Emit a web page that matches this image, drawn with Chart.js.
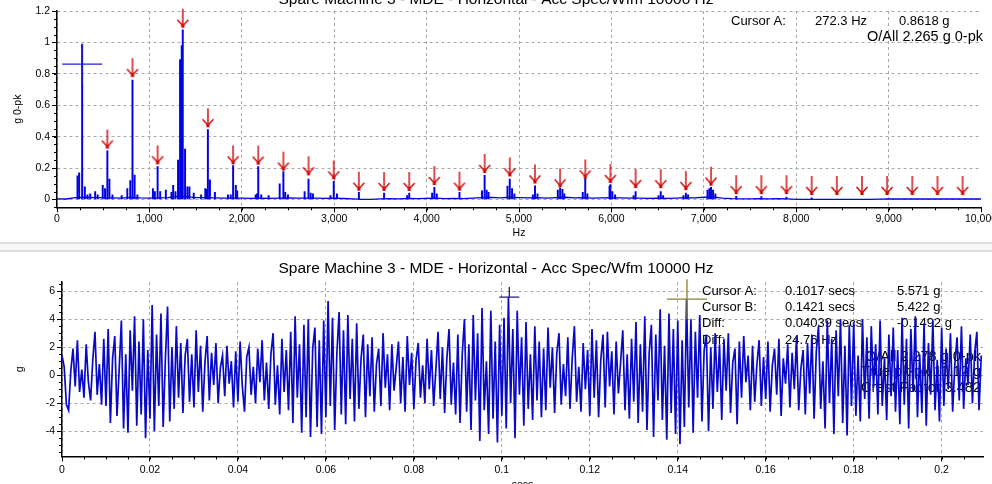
<!DOCTYPE html>
<html lang="en">
<head>
<meta charset="UTF-8">
<title>Spare Machine 3 - MDE - Horizontal - Acc Spec/Wfm 10000 Hz</title>
<script src="https://cdn.jsdelivr.net/npm/chart.js"></script>
<style>
    html, body { margin: 0; padding: 0; background: #fff; width: 992px; height: 484px; overflow: hidden; }
    #specBox { position: absolute; left: 0; top: -12px; width: 992px; height: 254px; }
    #wfmBox { position: absolute; left: 0; top: 252px; width: 992px; height: 244px; }
    #splitter { position: absolute; left: 0; top: 242px; width: 992px; height: 10px; box-sizing: border-box;
                border-top: 2px solid #dcdcdc; border-bottom: 2px solid #dcdcdc; background: #f7f7f7; }
</style>
</head>
<body>
<div id="specBox"><canvas id="specChart" width="992" height="254"></canvas></div>
<div id="splitter"></div>
<div id="wfmBox"><canvas id="wfmChart" width="992" height="244"></canvas></div>
<script>
// ---- spectrum (top) ----
const chartTitle = 'Spare Machine 3 - MDE - Horizontal - Acc Spec/Wfm 10000 Hz';

// noise floor, one value every 100 Hz (0 .. 10000 Hz)
const floorStepHz = 100;
const floorG = [
    0.004, 0.003, 0.012, 0.014, 0.012, 0.011, 0.010, 0.009, 0.013, 0.010,
    0.009, 0.010, 0.012, 0.020, 0.018, 0.011, 0.012, 0.010, 0.008, 0.009,
    0.008, 0.007, 0.008, 0.007, 0.009, 0.010, 0.008, 0.009, 0.008, 0.007,
    0.008, 0.006, 0.004, 0.001, 0.001, 0.004, 0.005, 0.004, 0.006, 0.005,
    0.007, 0.008, 0.005, 0.006, 0.005, 0.008, 0.012, 0.013, 0.010, 0.014,
    0.012, 0.010, 0.011, 0.009, 0.012, 0.014, 0.010, 0.012, 0.009, 0.010,
    0.012, 0.010, 0.008, 0.009, 0.007, 0.008, 0.007, 0.009, 0.011, 0.010,
    0.014, 0.016, 0.008, 0.005, 0.004, 0.004, 0.005, 0.004, 0.005, 0.004,
    0.001, 0.000, 0.001, 0.000, 0.000, 0.001, 0.000, 0.000, 0.001, 0.002,
    0.003, 0.004, 0.003, 0.004, 0.003, 0.004, 0.003, 0.003, 0.004, 0.003,
    0.003
];

// spectral lines
const peakHz = [
    222, 240, 272.3, 301, 330, 360, 413, 440, 495, 520, 545, 567, 600, 700,
    761, 793, 817, 840, 870, 1038, 1059, 1089, 1117, 1178, 1239, 1257, 1282,
    1310, 1332, 1350, 1361, 1386, 1411, 1433, 1480, 1560, 1605, 1620, 1633, 1655,
    1709, 1850, 1880, 1906, 1935, 1950, 2150, 2165, 2178, 2210, 2290, 2410, 2450,
    2470, 2500, 2680, 2722, 2745, 2770, 2960, 2995, 3030, 3267, 3540, 3790, 3812,
    4060, 4084, 4110, 4356, 4600, 4628, 4650, 4670, 4875, 4900, 4925, 4950,
    5150, 5173, 5200, 5420, 5445, 5470, 5490, 5690, 5717, 5740, 5980, 5989, 6010,
    6040, 6240, 6262, 6510, 6534, 6560, 6780, 6806, 6830, 7040, 7060, 7078, 7100,
    7125, 7351, 7623, 7895, 8167
];
const peakG = [
    0.15, 0.17, 0.99, 0.08, 0.03, 0.035, 0.05, 0.03, 0.09, 0.07, 0.31, 0.13, 0.03, 0.025,
    0.07, 0.12, 0.76, 0.155, 0.03, 0.07, 0.05, 0.21, 0.05, 0.06, 0.045, 0.09, 0.05,
    0.25, 0.89, 0.98, 1.08, 0.32, 0.08, 0.08, 0.04, 0.03, 0.07, 0.065, 0.445, 0.125,
    0.045, 0.03, 0.03, 0.215, 0.09, 0.055, 0.03, 0.035, 0.21, 0.03, 0.025, 0.10, 0.178,
    0.045, 0.03, 0.05, 0.13, 0.04, 0.035, 0.025, 0.115, 0.035, 0.045, 0.04, 0.025, 0.04,
    0.04, 0.077, 0.035, 0.045, 0.055, 0.153, 0.06, 0.045, 0.085, 0.13, 0.07, 0.035,
    0.03, 0.087, 0.035, 0.06, 0.073, 0.065, 0.035, 0.045, 0.136, 0.035, 0.085, 0.094, 0.05,
    0.03, 0.025, 0.05, 0.025, 0.05, 0.025, 0.025, 0.04, 0.03, 0.06, 0.07, 0.077, 0.06,
    0.035, 0.02, 0.018, 0.015, 0.01
];

// harmonic markers (red arrows), tip position
const arrowHz = [
    545, 817, 1089, 1361, 1633, 1906, 2178, 2450, 2722, 2995, 3267, 3540, 3812,
    4084, 4356, 4628, 4900, 5173, 5445, 5717, 5989, 6262, 6534, 6806, 7078,
    7351, 7623, 7895, 8167, 8440, 8712, 8984, 9256, 9529, 9801
];
const arrowG = [
    0.33, 0.785, 0.23, 1.10, 0.466, 0.23, 0.228, 0.19, 0.16, 0.134, 0.062, 0.06, 0.06,
    0.098, 0.062, 0.175, 0.153, 0.108, 0.083, 0.14, 0.111, 0.079, 0.078, 0.066, 0.094,
    0.04, 0.04, 0.04, 0.035, 0.035, 0.035, 0.035, 0.035, 0.035, 0.035
];

const specCursor = { hz: 272.3, g: 0.8618 };
const specOverall = '2.265';

// ---- waveform (bottom) ----
const sampleStep = 0.0005; // secs
const wfmG = [
    1.4, 0.6, -2.1, -2.5, 0.3, 1.9, -0.8, 2.5, -1.2, 0.4, -1.6, 2.2, -0.5, -1.8, 1.1, 3.1, -1.4, 0.8, -2.1, 2.6,
    -2.2, 3.3, -3.4, 1.2, 2.8, -2.9, 0.4, 3.9, -3.8, 1.5, -4.1, 3.2, -1.1, 4.2, -3.6, 2.4, -2.8, 4.0, -4.5, 1.8,
    -3.1, 5.0, -4.0, 2.9, -2.2, 4.4, -3.7, 1.1, 4.9, -3.3, 2.0, -2.4, 3.5, -1.6, 2.3, -2.7, 1.4, 2.6, -1.9, 1.5,
    -2.3, 3.2, -1.2, 2.1, -2.6, 0.9, 2.8, -1.8, 1.6, -0.7, 2.3, -2.0, 0.5, 1.4, -1.5, 2.1, -0.6, 1.0, -2.3, 1.7,
    -1.9, 2.4, -0.8, -2.6, 1.3, 2.0, -1.4, 0.6, -2.0, 1.9, -0.5, 2.5, -1.8, 0.9, -2.4, 1.5, 3.0, -2.1, 0.7, -2.8,
    2.6, -1.2, 1.8, -2.5, 3.1, -3.4, 4.2, -1.6, 2.2, -4.1, 3.6, -3.0, 4.0, -4.4, 1.9, 3.4, -3.7, 2.5, -4.2, 3.9,
    -3.0, 5.3, -2.2, 4.1, -3.9, 1.6, 4.5, -2.8, 3.2, -3.5, 4.3, -1.7, 2.6, -3.3, 3.7, -2.4, 1.2, 2.9, -3.0, 2.2,
    -1.5, 2.7, -2.6, 0.8, 1.9, -2.2, 3.0, -0.9, 1.5, -2.5, 2.2, -1.1, 0.6, 2.4, -2.0, 1.3, -2.6, 2.8, -0.7, 1.6,
    -2.4, 1.1, 2.3, -1.6, 0.7, -2.0, 2.6, -1.0, 1.8, -2.2, 0.4, 3.1, -1.7, 2.0, -2.7, 1.2, 3.3, -2.1, 0.9, -2.8,
    2.9, -3.4, 1.5, 4.0, -2.6, 2.2, -3.9, 4.3, -1.8, 3.0, -4.7, 4.8, -2.5, 1.0, -4.2, 4.6, -3.1, 2.4, -4.8, 3.6,
    -2.9, 4.1, -3.8, 5.57, -2.0, 3.3, -4.5, 4.6, -1.4, 2.7, -3.6, 3.8, -2.4, 1.5, -3.2, 3.5, -1.8, 2.4, -3.0, 1.9,
    -2.5, 3.4, -0.9, 2.0, -2.7, 1.6, 3.0, -2.1, 0.8, -1.5, 2.7, -2.4, 1.2, 3.5, -1.9, 0.6, -2.6, 2.3, -1.0, 1.8,
    -2.9, 3.3, -1.6, 2.5, -3.0, 1.1, 2.9, -2.3, 3.1, -0.8, 1.7, -2.8, 2.4, -1.3, 0.9, 3.2, -2.5, 1.5, -3.1, 2.6,
    -1.9, 3.8, -3.4, 2.2, -2.6, 4.2, -3.9, 1.6, 3.6, -4.4, 2.9, -1.8, 4.7, -3.2, 2.1, -4.6, 4.4, -2.7, 3.3, -4.2,
    3.9, -4.9, 2.5, -3.7, 5.42, -2.3, 4.0, -4.1, 3.1, -1.6, 4.3, -3.3, 1.8, 2.9, -4.0, 2.0, -2.4, 3.0, -1.2, 2.2,
    -3.2, 2.6, -1.1, 3.0, -2.7, 0.9, 1.9, -3.5, 2.4, -1.6, 2.8, -0.5, 1.4, -2.5, 2.1, -1.9, 0.8, 2.5, -2.2, 1.3,
    -1.7, 2.4, -2.6, 0.7, 1.9, -1.4, 2.6, -2.9, 1.2, -0.6, 2.2, -2.3, 1.6, -1.0, 2.7, -2.5, 0.5, 1.8, -2.8, 2.3,
    -1.3, 2.9, -3.1, 1.7, 3.5, -2.4, 1.0, -3.8, 3.9, -2.0, 2.6, -4.2, 3.2, -1.5, 4.0, -3.4, 2.1, -4.3, 3.6, -2.2,
    3.8, -2.9, 1.4, -3.3, 4.0, -1.7, 2.7, -3.1, 3.5, -0.9, 2.2, -2.8, 3.9, -2.2, 1.3, -3.2, 2.9, -1.5, 3.4, -2.6,
    1.8, -3.5, 4.1, -2.1, 2.6, -3.8, 3.3, -1.2, 4.2, -3.0, 1.5, -2.7, 3.7, -3.6, 2.3, -1.4, 3.9, -2.5, 1.1, -3.3,
    3.4, -2.2, 1.9, -1.0, 3.0, -2.6, 0.8, 2.7, -1.8, 3.5, -2.4, 1.2, -0.7, 2.9, -2.0, 1.6, 3.1, -2.5, 1.4
];
const wfmCursorA = { t: 0.1017, g: 5.571 };
const wfmCursorB = { t: 0.1421, g: 5.422 };
const wfmDiffT = '0.04039';
const wfmDiffG = '-0.1492';
const wfmDiffHz = '24.76';
const wfmOverall = '2.278';
const wfmPkPk = '11.12';
const wfmCrest = '3.482';

// ---- styling ----
const FONT = '"Liberation Sans", Arial, sans-serif';
const specBlue = '#0000e6';
const wfmBlue = '#0808c8';
const arrowRed = '#d00000';
const gridGray = '#a8a8a8';
Chart.defaults.font.family = FONT;
Chart.defaults.color = '#000';

function makeArrow() {
    const c = document.createElement('canvas');
    c.width = 14; c.height = 46;
    const g = c.getContext('2d');
    const cx = 7, tip = 23;
    g.strokeStyle = arrowRed; g.fillStyle = arrowRed; g.lineWidth = 1.4;
    g.beginPath(); g.moveTo(cx, tip - 18); g.lineTo(cx, tip); g.stroke();
    g.beginPath(); g.moveTo(cx - 5.5, tip - 7); g.lineTo(cx, tip - 1); g.lineTo(cx + 5.5, tip - 7); g.stroke();
    g.fillRect(cx - 1.5, tip - 2, 3, 3);
    return c;
}

// keep only ticks on the major step
function keepSteps(step) {
    return function (scale) {
        scale.ticks = scale.ticks.filter(t => {
            const k = t.value / step;
            return Math.abs(k - Math.round(k)) < 1e-6 && t.value >= scale.min - 1e-9 && t.value <= scale.max + 1e-9;
        });
    };
}
const shortNum = v => String(Number(v.toFixed(4)));

// titles, cursor readouts, minor ticks, cursor marks
const panelDecor = {
    id: 'panelDecor',
    beforeDatasetsDraw(chart, args, o) {
        const ctx = chart.ctx;
        ctx.save();
        ctx.fillStyle = '#000';
        ctx.font = '15.5px ' + FONT;
        ctx.textAlign = 'center';
        ctx.textBaseline = 'alphabetic';
        ctx.fillText(o.title, chart.width / 2, o.titleBaseline);
        ctx.textBaseline = 'middle';
        (o.notes || []).forEach(n => {
            ctx.font = (n.size || 13) + 'px ' + FONT;
            ctx.textAlign = n.align || 'left';
            ctx.fillText(n.text, n.x, n.y);
        });
        ctx.restore();
    },
    afterDatasetsDraw(chart, args, o) {
        const ctx = chart.ctx, xs = chart.scales.x, ys = chart.scales.y;
        ctx.save();
        ctx.strokeStyle = '#000';
        ctx.lineWidth = 1;
        ctx.beginPath();
        for (let k = Math.ceil(xs.min / o.minorX - 1e-9); k * o.minorX <= xs.max + 1e-9; k++) {
            const px = Math.round(xs.getPixelForValue(k * o.minorX)) + 0.5;
            ctx.moveTo(px, xs.top); ctx.lineTo(px, xs.top + 3);
        }
        for (let k = Math.ceil(ys.min / o.minorY - 1e-9); k * o.minorY <= ys.max + 1e-9; k++) {
            const py = Math.round(ys.getPixelForValue(k * o.minorY)) + 0.5;
            ctx.moveTo(ys.right - 3, py); ctx.lineTo(ys.right, py);
        }
        ctx.stroke();
        (o.cursors || []).forEach(c => {
            const px = xs.getPixelForValue(c.x), py = ys.getPixelForValue(c.y);
            ctx.strokeStyle = c.color;
            ctx.lineWidth = 1.3;
            ctx.beginPath();
            ctx.moveTo(px - c.half, py); ctx.lineTo(px + c.half, py);
            ctx.moveTo(px, py - c.up); ctx.lineTo(px, py + c.down);
            ctx.stroke();
        });
        ctx.restore();
    }
};

const tickFont = { size: 10.5, family: FONT };
function axis(opts) {
    const hideAt = opts.hideGridAt;
    return {
        type: 'linear',
        min: opts.min, max: opts.max,
        offset: false,
        afterBuildTicks: keepSteps(opts.step),
        afterFit: opts.fit,
        grid: {
            offset: false,
            color: c => (hideAt !== undefined && c.tick && Math.abs(c.tick.value - hideAt) < 1e-9 ? 'rgba(0,0,0,0)' : gridGray),
            lineWidth: 1, tickColor: '#000', tickLength: 5, tickWidth: 1
        },
        border: { color: '#000', width: 1.5, dash: [3, 3] },
        ticks: {
            stepSize: opts.step, includeBounds: false, autoSkip: false, maxRotation: 0,
            font: tickFont, color: '#000', padding: opts.pad, callback: opts.fmt
        },
        title: { display: true, text: opts.title, font: tickFont, color: '#000', padding: opts.titlePad }
    };
}

// top: spectrum
new Chart(document.getElementById('specChart'), {
    type: 'scatter',
    data: {
        datasets: [
            {
                type: 'scatter',
                data: arrowHz.map((x, i) => ({ x: x, y: arrowG[i] })),
                pointStyle: makeArrow(),
                pointRadius: 10,
                clip: false,
                order: 0
            },
            {
                type: 'bar',
                data: peakHz.map((x, i) => ({ x: x, y: peakG[i] })),
                backgroundColor: specBlue,
                barThickness: 1.3,
                order: 1
            },
            {
                type: 'line',
                data: floorG.map((g, i) => ({ x: i * floorStepHz, y: g })),
                borderColor: specBlue,
                borderWidth: 1.3,
                pointRadius: 0,
                tension: 0,
                order: 2
            }
        ]
    },
    options: {
        responsive: false,
        animation: false,
        events: [],
        layout: { padding: { top: 23, right: 7, left: 0, bottom: 0 } },
        scales: {
            x: axis({
                min: 0, max: 10000, step: 1000, hideGridAt: 10000, pad: 1,
                fit: s => { s.height = 34.7; s.paddingLeft = 0; s.paddingRight = 0; },
                fmt: v => v.toLocaleString('en-US'),
                title: 'Hz', titlePad: { top: 0, bottom: 2.4 }
            }),
            y: axis({
                min: -0.05, max: 1.2, step: 0.2, pad: 2,
                fit: s => { s.width = 57; },
                fmt: shortNum,
                title: 'g 0-pk', titlePad: { top: 11.4, bottom: 0 }
            })
        },
        plugins: {
            legend: { display: false },
            tooltip: { enabled: false },
            panelDecor: {
                title: chartTitle,
                titleBaseline: 16,
                minorX: 250,
                minorY: 0.05,
                notes: [
                    { text: 'Cursor A:', x: 731, y: 33 },
                    { text: specCursor.hz + ' Hz', x: 815, y: 33 },
                    { text: specCursor.g + ' g', x: 899, y: 33 },
                    { text: 'O/All ' + specOverall + ' g 0-pk', x: 983, y: 49, align: 'right', size: 14.5 }
                ],
                cursors: [
                    { x: specCursor.hz, y: specCursor.g, color: '#2020d0', half: 20, up: 20, down: 20 }
                ]
            }
        }
    },
    plugins: [panelDecor]
});

// bottom: waveform
new Chart(document.getElementById('wfmChart'), {
    type: 'line',
    data: {
        datasets: [{
            data: wfmG.map((g, i) => ({ x: i * sampleStep, y: g })),
            borderColor: wfmBlue,
            borderWidth: 1.7,
            pointRadius: 0,
            tension: 0
        }]
    },
    options: {
        responsive: false,
        animation: false,
        events: [],
        layout: { padding: { top: 30, right: 9, left: 0, bottom: 0 } },
        scales: {
            x: axis({
                min: 0, max: 0.2094, step: 0.02, pad: 2.4,
                fit: s => { s.height = 39.5; s.paddingLeft = 0; s.paddingRight = 0; },
                fmt: shortNum,
                title: 'secs', titlePad: { top: 0, bottom: 4.5 }
            }),
            y: axis({
                min: -5.8, max: 6.65, step: 2, pad: 2,
                fit: s => { s.width = 62; },
                fmt: shortNum,
                title: 'g', titlePad: { top: 13.4, bottom: 0 }
            })
        },
        plugins: {
            legend: { display: false },
            tooltip: { enabled: false },
            panelDecor: {
                title: chartTitle,
                titleBaseline: 21,
                minorX: 0.005,
                minorY: 0.5,
                notes: [
                    { text: 'Cursor A:', x: 702, y: 39.7 },
                    { text: wfmCursorA.t + ' secs', x: 785, y: 39.7 },
                    { text: wfmCursorA.g + ' g', x: 897, y: 39.7 },
                    { text: 'Cursor B:', x: 702, y: 55.7 },
                    { text: wfmCursorB.t + ' secs', x: 785, y: 55.7 },
                    { text: wfmCursorB.g + ' g', x: 897, y: 55.7 },
                    { text: 'Diff:', x: 702, y: 71.7 },
                    { text: wfmDiffT + ' secs', x: 785, y: 71.7 },
                    { text: wfmDiffG + ' g', x: 897, y: 71.7 },
                    { text: 'Diff:', x: 702, y: 88 },
                    { text: wfmDiffHz + ' Hz', x: 785, y: 88 },
                    { text: 'O/All ' + wfmOverall + ' g 0-pk', x: 981, y: 104.7, align: 'right', size: 14.5 },
                    { text: 'True pk-pk ' + wfmPkPk + ' g', x: 981, y: 120.3, align: 'right', size: 14.5 },
                    { text: 'Crest Factor ' + wfmCrest, x: 981, y: 136.3, align: 'right', size: 14.5 }
                ],
                cursors: [
                    { x: wfmCursorA.t, y: wfmCursorA.g, color: '#1a1a80', half: 10, up: 10, down: 0 },
                    { x: wfmCursorB.t, y: wfmCursorB.g, color: '#8a8030', half: 20, up: 20, down: 20 }
                ]
            }
        }
    },
    plugins: [panelDecor]
});
</script>
</body>
</html>
